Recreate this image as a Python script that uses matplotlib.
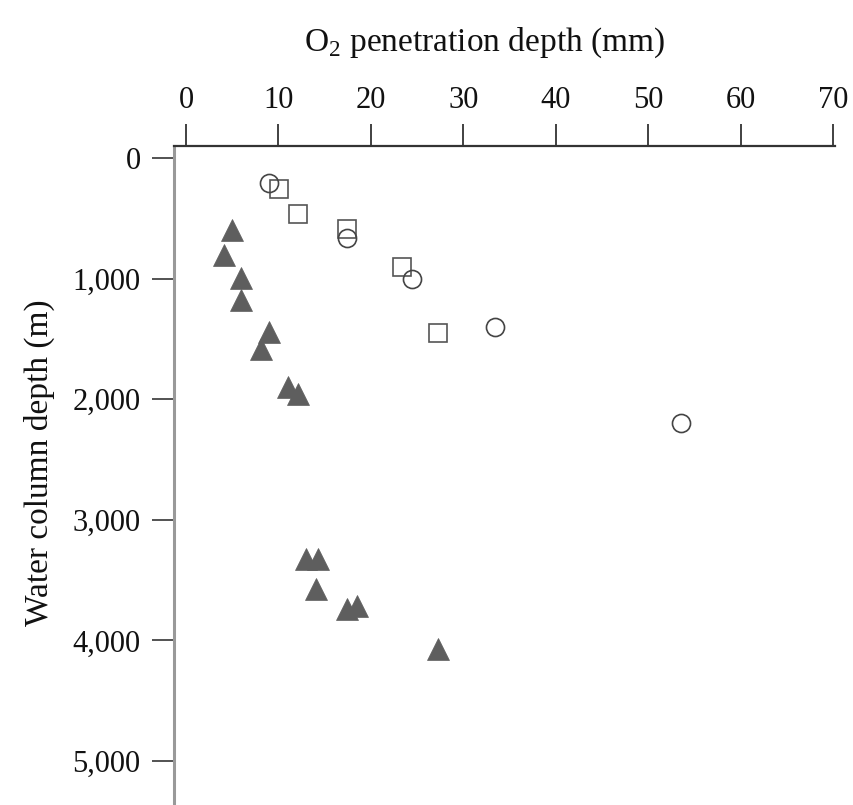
import matplotlib
matplotlib.use("Agg")
import matplotlib.pyplot as plt
from matplotlib.ticker import FuncFormatter

plt.rcParams['font.family'] = ['Liberation Serif', 'DejaVu Serif']
plt.rcParams['mathtext.fontset'] = 'custom'
plt.rcParams['mathtext.rm'] = 'Liberation Serif'

# Data (O2 penetration depth in mm, water column depth in m)
circle_x = [9.0, 17.4, 24.4, 33.4, 53.5]
circle_y = [210, 665, 1000, 1400, 2200]
square_x = [10.1, 12.1, 17.4, 23.4, 27.3]
square_y = [260, 460, 585, 900, 1450]
tri_x = [5.0, 4.1, 6.0, 6.0, 9.0, 8.1, 11.0, 12.1, 13.0, 14.3, 14.1, 17.4, 18.5, 27.3]
tri_y = [597, 804, 998, 1177, 1440, 1585, 1900, 1957, 3328, 3328, 3577, 3743, 3715, 4074]

xticks = [0, 10, 20, 30, 40, 50, 60, 70]
yticks = [0, 1000, 2000, 3000, 4000, 5000]

fig = plt.figure(figsize=(8.54, 8.05), dpi=100)
ax = fig.add_axes([174/854, 0.0, (835-174)/854, (805-146)/805])

ax.plot(tri_x, tri_y, linestyle='none', marker='^', markersize=16,
        markerfacecolor='#5e5e5e', markeredgecolor='#5e5e5e', markeredgewidth=0.5)
ax.plot(square_x, square_y, linestyle='none', marker='s', markersize=13,
        markerfacecolor='none', markeredgecolor='#555555', markeredgewidth=1.2)
ax.plot(circle_x, circle_y, linestyle='none', marker='o', markersize=13,
        markerfacecolor='none', markeredgecolor='#444444', markeredgewidth=1.2)

ax.set_xlim(-1.3, 70.2)
ax.set_ylim(5365, -100)

ax.xaxis.tick_top()
ax.set_xticks(xticks)
ax.set_yticks(yticks)
ax.yaxis.set_major_formatter(FuncFormatter(lambda v, p: f"{int(v):,}"))

ax.spines['right'].set_visible(False)
ax.spines['bottom'].set_visible(False)
ax.spines['top'].set_color('#333333')
ax.spines['top'].set_linewidth(1.6)
ax.spines['left'].set_color('#999999')
ax.spines['left'].set_linewidth(2.2)

ax.tick_params(axis='x', direction='out', length=16, width=1.3, color='#333333',
               labelsize=22, pad=6, labelcolor='#111111')
ax.tick_params(axis='y', direction='out', length=16, width=1.3, color='#444444',
               labelsize=22, pad=8, labelcolor='#111111')

ax.xaxis.set_label_position('top')
ax.set_xlabel(r'O$_2$ penetration depth (mm)', fontsize=24, color='#111111')
ax.xaxis.set_label_coords(0.47, 1.145)
ax.set_ylabel('Water column depth (m)', fontsize=24, color='#111111')
ax.yaxis.set_label_coords(-0.18, 0.52)

fig.savefig('out.png', dpi=100)
